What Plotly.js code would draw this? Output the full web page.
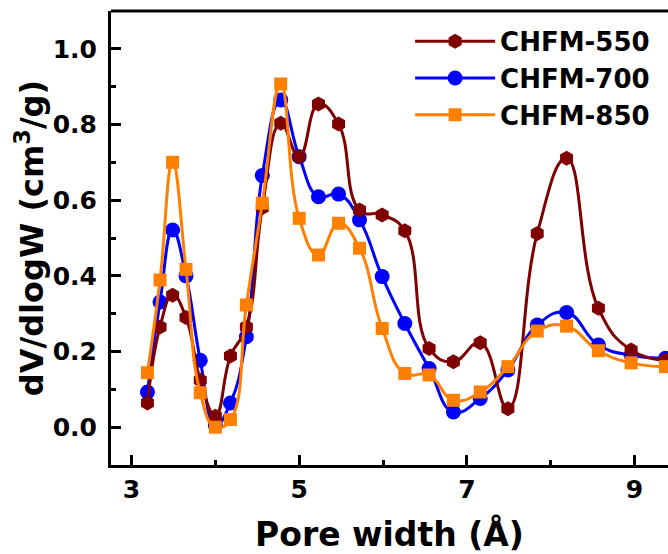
<!DOCTYPE html>
<html>
<head>
<meta charset="utf-8">
<script src="https://cdn.plot.ly/plotly-3.0.1.min.js"></script>
<style>html,body{margin:0;padding:0;background:#fff;overflow:hidden;}#chart{width:668px;height:554px;}</style>
</head>
<body>
<div id="chart"></div>
<script>
// Pore width (Å)
const poreWidth = [3.19, 3.34, 3.49, 3.65, 3.82, 4.0, 4.18, 4.37, 4.56, 4.78, 5.0, 5.23, 5.47, 5.72, 5.99, 6.26, 6.55, 6.84, 7.16, 7.49, 7.84, 8.19, 8.57, 8.96, 9.37];
// dV/dlogW (cm3/g)
const chfm550 = [0.064, 0.265, 0.349, 0.290, 0.124, 0.029, 0.188, 0.265, 0.58, 0.803, 0.715, 0.854, 0.801, 0.574, 0.561, 0.519, 0.208, 0.173, 0.223, 0.049, 0.512, 0.711, 0.314, 0.204, 0.177];
const chfm700 = [0.093, 0.331, 0.521, 0.400, 0.177, 0.005, 0.064, 0.239, 0.665, 0.865, 0.715, 0.609, 0.616, 0.548, 0.398, 0.274, 0.155, 0.040, 0.076, 0.151, 0.270, 0.303, 0.217, 0.190, 0.182];
const chfm850 = [0.144, 0.389, 0.700, 0.417, 0.091, 0.000, 0.020, 0.323, 0.592, 0.907, 0.552, 0.455, 0.539, 0.473, 0.261, 0.142, 0.138, 0.071, 0.093, 0.160, 0.254, 0.267, 0.202, 0.170, 0.160];
const seriesNames = ["CHFM-550", "CHFM-700", "CHFM-850"];
const xTickVals = [3, 5, 7, 9];
const yTickVals = [0.0, 0.2, 0.4, 0.6, 0.8, 1.0];
const yTickText = ["0.0", "0.2", "0.4", "0.6", "0.8", "1.0"];

const FONT = "DejaVu Sans, Liberation Sans, Arial, sans-serif";

function mk(name, y, color, symbol, size, rank) {
  return {
    x: poreWidth, y: y, name: name, type: "scatter", mode: "lines+markers",
    line: {color: color, width: 3, shape: "spline", smoothing: 1.3},
    marker: {color: color, size: size, symbol: symbol, line: {width: 0}},
    legendrank: rank
  };
}

const data = [
  mk(seriesNames[1], chfm700, "#0000ff", "circle", 15, 2),
  mk(seriesNames[0], chfm550, "#7f0000", "hexagon", 15, 1),
  mk(seriesNames[2], chfm850, "#ff7f00", "square", 13, 3)
];

const layout = {
  width: 668, height: 554,
  margin: {l: 111, r: 0, t: 11, b: 89},
  paper_bgcolor: "#fff", plot_bgcolor: "#fff",
  showlegend: true,
  legend: {
    x: 0.537, y: 0.985, xanchor: "left", yanchor: "top",
    bgcolor: "rgba(0,0,0,0)", borderwidth: 0,
    font: {family: FONT, size: 26, color: "#000", weight: "bold"},
    itemwidth: 80
  },
  xaxis: {
    range: [2.755, 9.40],
    tickvals: xTickVals, ticktext: xTickVals.map(String),
    ticks: "inside", ticklen: 10, tickwidth: 3, tickcolor: "#000",
    minor: {dtick: 1, tick0: 0, ticks: "inside", ticklen: 5, tickwidth: 3, tickcolor: "#000"},
    showline: true, linewidth: 3, linecolor: "#000", mirror: false,
    showgrid: false, zeroline: false,
    tickfont: {family: FONT, size: 25, color: "#000", weight: "bold"},
    ticklabelstandoff: 0,
    title: {text: "Pore width (Å)", font: {family: FONT, size: 33, color: "#000", weight: "bold"}, standoff: 20}
  },
  yaxis: {
    range: [-0.1, 1.1],
    tickvals: yTickVals, ticktext: yTickText,
    ticks: "inside", ticklen: 10, tickwidth: 3, tickcolor: "#000",
    minor: {dtick: 0.1, tick0: 0, ticks: "inside", ticklen: 5, tickwidth: 3, tickcolor: "#000"},
    showline: true, linewidth: 3, linecolor: "#000", mirror: false,
    showgrid: false, zeroline: false,
    tickfont: {family: FONT, size: 25, color: "#000", weight: "bold"},
    ticklabelstandoff: 6,
    title: {text: "dV/dlogW (cm<sup>3</sup>/g)", font: {family: FONT, size: 32, color: "#000", weight: "bold"}, standoff: 0}
  },
  shapes: [
    {type: "line", xref: "paper", yref: "paper", x0: 0, x1: 1, y0: 1, y1: 1, line: {color: "#000", width: 3}}
  ]
};

Plotly.newPlot("chart", data, layout, {displayModeBar: false, staticPlot: true});
</script>
</body>
</html>
